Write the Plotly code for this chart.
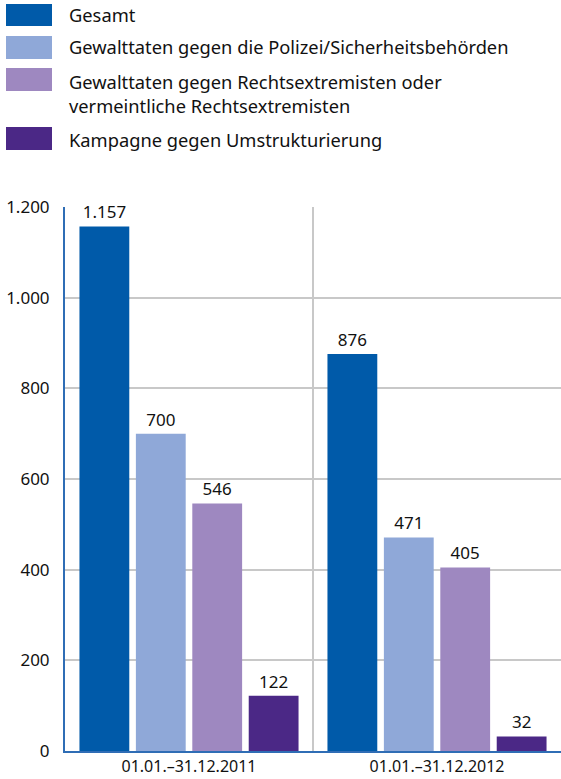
import plotly.graph_objects as go

categories = ["01.01.–31.12.2011", "01.01.–31.12.2012"]
series_names = [
    "Gesamt",
    "Gewalttaten gegen die Polizei/Sicherheitsbehörden",
    "Gewalttaten gegen Rechtsextremisten oder<br>vermeintliche Rechtsextremisten",
    "Kampagne gegen Umstrukturierung",
]
values_gesamt = [1157, 876]
values_polizei = [700, 471]
values_rechts = [546, 405]
values_kampagne = [122, 32]
y_ticks = [0, 200, 400, 600, 800, 1000, 1200]

colors = ["#005aa9", "#8fa8d8", "#9e88c0", "#4b2886"]
all_values = [values_gesamt, values_polizei, values_rechts, values_kampagne]

FONT = "Noto Sans"

fig = go.Figure()
for name, vals, col in zip(series_names, all_values, colors):
    fig.add_trace(go.Bar(
        x=categories, y=vals, name=name,
        marker=dict(color=col, line=dict(width=0)),
        texttemplate="%{y:,.0f}", textposition="outside",
        textfont=dict(family=FONT, size=17, color="#111111"),
        cliponaxis=False, showlegend=False,
    ))

fig.update_layout(
    width=561, height=779,
    margin=dict(l=65, r=0, t=207, b=28),
    plot_bgcolor="white", paper_bgcolor="white",
    separators=",.",
    barmode="group", bargap=0.09, bargroupgap=0.117,
    font=dict(family=FONT, size=16, color="#111111"),
    showlegend=False,
    uniformtext=dict(minsize=8, mode=False),
    xaxis=dict(
        type="category", range=[-0.5, 1.5], tickson="boundaries",
        showgrid=True, gridcolor="#c8c8c8", gridwidth=2,
        showline=True, linecolor="#2f6db5", linewidth=2,
        ticks="", tickfont=dict(size=16),
    ),
    yaxis=dict(
        range=[0, 1200], tickvals=y_ticks, separatethousands=True,
        showgrid=True, gridcolor="#c8c8c8", gridwidth=2,
        showline=True, linecolor="#2f6db5", linewidth=2,
        zeroline=False, ticks="", ticklabelstandoff=10,
        tickfont=dict(size=17),
    ),
)

# custom legend with pixel-based paper coords
legend_rows = [(4, 26, 15), (36, 59, 47), (68, 91, 94), (127, 150, 139)]
plot_w = 561 - 65
plot_h = 779 - 207 - 28
def px_x(x):
    return (x - 65) / plot_w
def px_y(y):
    return (779 - 28 - y) / plot_h

for (y0, y1, yc), name, col in zip(legend_rows, series_names, colors):
    fig.add_shape(type="rect", xref="paper", yref="paper",
                  x0=px_x(6), x1=px_x(52), y0=px_y(y1), y1=px_y(y0),
                  line=dict(width=0), fillcolor=col)
    fig.add_annotation(xref="paper", yref="paper", x=px_x(67), y=px_y(yc),
                       xanchor="left", yanchor="middle", showarrow=False,
                       text=name, align="left",
                       font=dict(family=FONT, size=18.3, color="#111111"))

fig.write_html("out.html",
               config={"displayModeBar": False},
               post_script="document.body.style.margin='0';document.body.style.overflow='hidden';")
